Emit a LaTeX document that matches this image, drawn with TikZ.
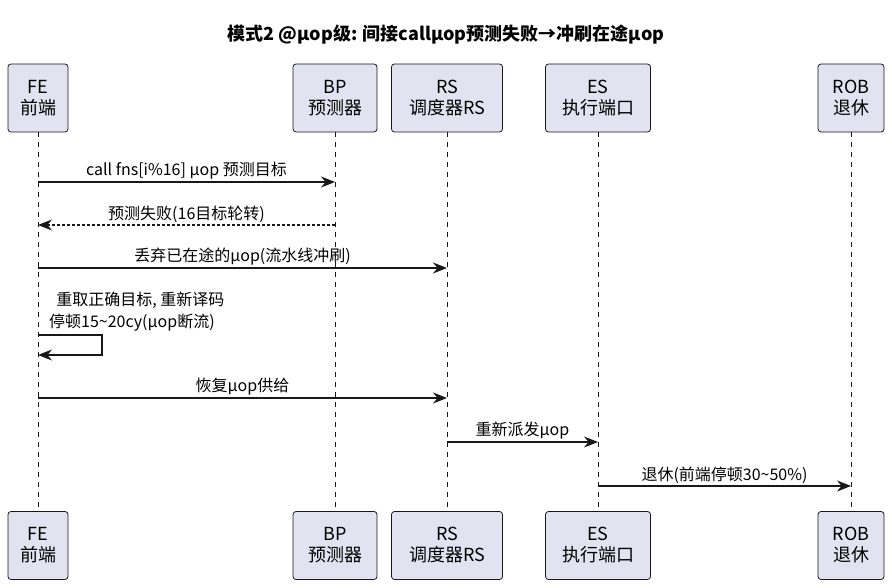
\documentclass[tikz,border=0pt]{standalone}
\usepackage{fontspec}
\setmainfont{Noto Sans CJK SC}
\usetikzlibrary{arrows.meta}
\definecolor{pbox}{HTML}{E2E2F0}
\definecolor{pline}{HTML}{181818}
\begin{document}
\begin{tikzpicture}[x=1pt,y=-1pt,
 part/.style={draw=pline,fill=pbox,rounded corners=3pt,line width=0.8pt,align=center,inner sep=0pt,font=\fontsize{18}{21}\selectfont},
 life/.style={draw=pline,dashed,dash pattern=on 5pt off 5pt,line width=0.6pt},
 msg/.style={draw=pline,line width=1.1pt,-{Stealth[length=14pt,width=11pt]}},
 lbl/.style={font=\fontsize{16}{19}\selectfont,inner sep=2pt,anchor=south}]
\useasboundingbox (0,0) rectangle (892,588);
\node[font=\bfseries\fontsize{18}{21}\selectfont] (title) at (446,35) {模式2 @μop级: 间接callμop预测失败→冲刷在途μop};
\foreach \n/\x/\w/\t in {FE/38/60/{FE\\前端},BP/335/84/{BP\\预测器},RS/447/111/{RS\\调度器RS},ES/598/105/{ES\\执行端口},ROB/851/66/{ROB\\退休}}{
  \node[part,minimum width=\w pt,minimum height=68pt] (\n t) at (\x,98) {\t};
  \node[part,minimum width=\w pt,minimum height=68pt] (\n b) at (\x,545.5) {\t};
  \draw[life] (\n t.south) -- (\n b.north);
}
\coordinate (a1) at (38,182); \coordinate (b1) at (335,182);
\draw[msg] (a1) -- node[lbl]{call fns[i\%16] μop 预测目标} (b1);
\coordinate (a2) at (38,225); \coordinate (b2) at (335,225);
\draw[msg,dashed,dash pattern=on 3pt off 2pt] (b2) -- node[lbl]{预测失败(16目标轮转)} (a2);
\coordinate (a3) at (38,268); \coordinate (r3) at (447,268);
\draw[msg] (a3) -- node[lbl]{丢弃已在途的μop(流水线冲刷)} (r3);
\coordinate (a4) at (38,335); \coordinate (a5) at (38,355);
\draw[msg] (a4) -- (102,335) -- (102,355) -- (a5);
\node[font=\fontsize{16}{22}\selectfont,align=left,anchor=south west,inner sep=0pt] (self) at (49,331) {\ \ 重取正确目标, 重新译码\\停顿15\textasciitilde20cy(μop断流)};
\coordinate (a6) at (38,398); \coordinate (r6) at (447,398);
\draw[msg] (a6) -- node[lbl]{恢复μop供给} (r6);
\coordinate (r7) at (447,442); \coordinate (e7) at (598,442);
\draw[msg] (r7) -- node[lbl]{重新派发μop} (e7);
\coordinate (e8) at (598,486); \coordinate (o8) at (851,486);
\draw[msg] (e8) -- node[lbl]{退休(前端停顿30\textasciitilde50\%)} (o8);
\end{tikzpicture}
\end{document}
